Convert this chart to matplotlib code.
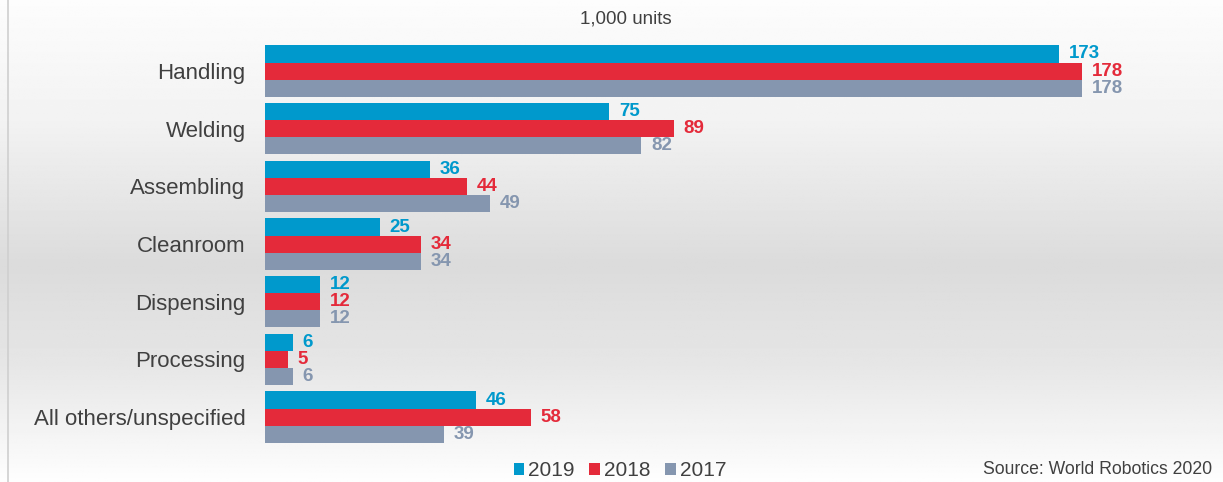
import numpy as np
import matplotlib.pyplot as plt

plt.rcParams['font.family'] = ['Liberation Sans', 'DejaVu Sans']

# data
categories = ['Handling', 'Welding', 'Assembling', 'Cleanroom',
              'Dispensing', 'Processing', 'All others/unspecified']
years = ['2019', '2018', '2017']
v2019 = [173, 75, 36, 25, 12, 6, 46]
v2018 = [178, 89, 44, 34, 12, 5, 58]
v2017 = [178, 82, 49, 34, 12, 6, 39]
colors = ['#0099CC', '#E42A3A', '#8596AF']

W, H = 1223, 482
fig = plt.figure(figsize=(W / 100, H / 100), dpi=100)

# soft vertical background gradient
bg = fig.add_axes([0, 0, 1, 1], zorder=-2)
stops_y = [0.0, 0.25, 0.55, 0.75, 1.0]
stops_v = [0.99, 0.95, 0.86, 0.90, 0.995]
grad = np.interp(np.linspace(0, 1, 300), stops_y, stops_v)
bg.imshow(np.tile(grad[:, None], (1, 10)), cmap='gray', vmin=0, vmax=1,
          aspect='auto', extent=[0, 1, 0, 1], origin='upper')
bg.plot([8 / W, 8 / W], [0, 1], color='#CFCFCF', lw=1.2)
bg.set_xlim(0, 1)
bg.set_ylim(0, 1)
bg.axis('off')

ax = fig.add_axes([265 / W, 0.075, 918 / W, 0.8375])
ax.patch.set_visible(False)

y = np.arange(len(categories))
h = 0.295
series = [v2019, v2018, v2017]
for i, (vals, c, yr) in enumerate(zip(series, colors, years)):
    pos = y + (i - 1) * h
    ax.barh(pos, vals, height=h, color=c, label=yr)
    for p, v in zip(pos, vals):
        ax.annotate(str(v), (v, p), xytext=(7, 0), textcoords='offset points',
                    ha='left', va='center', fontsize=13.5, fontweight='bold',
                    color=c)

ax.set_xlim(0, 200)
ax.set_ylim(len(categories) - 0.5, -0.5)
ax.set_yticks(y)
ax.set_yticklabels(categories, fontsize=16, color='#404040')
ax.tick_params(axis='y', length=0, pad=14)
ax.set_xticks([])
for s in ax.spines.values():
    s.set_visible(False)

fig.text(626 / W, 1 - 19 / H, '1,000 units', ha='center', va='center',
         fontsize=13.5, color='#404040')

handles, labels = ax.get_legend_handles_labels()
fig.legend(handles, labels, loc='center', bbox_to_anchor=(620 / W, 1 - 471 / H),
           ncol=3, frameon=False, fontsize=15, handlelength=0.5,
           handleheight=0.5, handletextpad=0.2, columnspacing=0.7,
           labelcolor='#404040')

fig.text(1212 / W, 1 - 470 / H, 'Source: World Robotics 2020', ha='right',
         va='center', fontsize=12.7, color='#404040')

plt.savefig('out.png', dpi=100)
